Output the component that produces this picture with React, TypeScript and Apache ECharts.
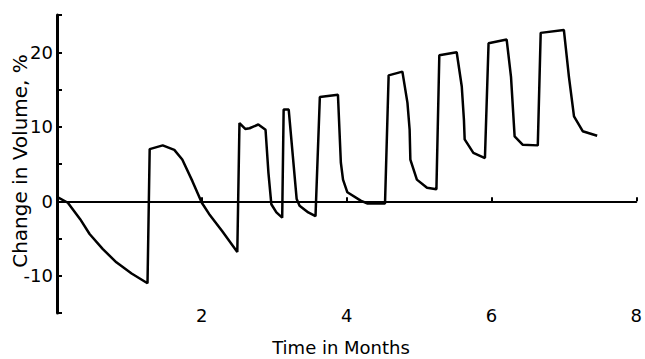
import React, { useEffect, useRef } from "react";
import * as echarts from "echarts";

const months = [
  0, 0.15, 0.32, 0.45, 0.63, 0.82, 1.03, 1.25, 1.28, 1.46, 1.62, 1.73, 1.87, 2.0, 2.1, 2.28, 2.49,
  2.52, 2.6, 2.66, 2.78, 2.88, 2.92, 2.96, 3.03, 3.11, 3.13, 3.2, 3.31, 3.35, 3.47, 3.57,
  3.63, 3.88, 3.92, 3.95, 4.01, 4.2, 4.29, 4.53, 4.58, 4.77, 4.84, 4.87, 4.88, 4.97, 5.11, 5.24,
  5.28, 5.52, 5.59, 5.62, 5.63, 5.75, 5.91, 5.96, 6.21, 6.27, 6.32, 6.43, 6.64,
  6.68, 7.0, 7.07, 7.14, 7.26, 7.46,
];
const volume = [
  0.6, -0.2, -2.4, -4.4, -6.4, -8.2, -9.7, -11.0, 7.0, 7.5, 6.9, 5.6, 2.7, -0.2, -1.7, -4.0, -6.8,
  10.5, 9.7, 9.8, 10.3, 9.6, 3.8, -0.4, -1.5, -2.2, 12.3, 12.3, 0.3, -0.6, -1.5, -2.0,
  14.0, 14.3, 5.2, 2.9, 1.2, 0.05, -0.3, -0.3, 16.9, 17.4, 13.2, 9.6, 5.6, 2.9, 1.8, 1.6,
  19.6, 20.0, 15.4, 10.9, 8.3, 6.5, 5.8, 21.2, 21.7, 16.7, 8.7, 7.6, 7.5,
  22.6, 23.0, 16.7, 11.4, 9.4, 8.8,
];
const xTickLabels = [2, 4, 6, 8];
const yTickLabels = [-10, 0, 10, 20];
const xTitle = "Time in Months";
const yTitle = "Change in Volume, %";

const FONT = "DejaVu Sans";

export default function App() {
  const ref = useRef<HTMLDivElement>(null);
  useEffect(() => {
    if (!ref.current) return;
    const chart = echarts.init(ref.current, undefined, { renderer: "svg" });
    const data = months.map((m, i) => [m, volume[i]]);
    chart.setOption({
      animation: false,
      backgroundColor: "#ffffff",
      grid: { left: 57, right: 5, top: 15, bottom: 46, containLabel: false },
      xAxis: [
        {
          type: "value",
          min: 0,
          max: 8,
          interval: 2,
          position: "bottom",
          axisLine: { show: true, onZero: true, lineStyle: { color: "#000", width: 2 } },
          axisTick: { show: true, inside: true, length: 4, lineStyle: { color: "#000", width: 2 } },
          axisLabel: { show: false },
          splitLine: { show: false },
        },
        {
          type: "value",
          min: 0,
          max: 8,
          interval: 2,
          position: "bottom",
          axisLine: { show: false, onZero: false },
          axisTick: { show: false },
          axisLabel: {
            show: true,
            margin: -7,
            color: "#000",
            fontFamily: FONT,
            fontSize: 18,
            formatter: (v: number) => (xTickLabels.includes(v) ? String(v) : ""),
          },
          splitLine: { show: false },
        },
      ],
      yAxis: {
        type: "value",
        min: -15,
        max: 25,
        interval: 5,
        axisLine: { show: true, lineStyle: { color: "#000", width: 3 } },
        axisTick: { show: true, inside: true, length: 5, lineStyle: { color: "#000", width: 2 } },
        axisLabel: {
          margin: 4,
          color: "#000",
          fontFamily: FONT,
          fontSize: 18,
          formatter: (v: number) => (yTickLabels.includes(v) ? String(v) : ""),
        },
        splitLine: { show: false },
      },
      graphic: [
        {
          type: "text",
          x: 341,
          y: 347,
          style: {
            text: xTitle,
            fill: "#000",
            font: `18px "${FONT}"`,
            textAlign: "center",
            textVerticalAlign: "middle",
          },
        },
        {
          type: "text",
          x: 20,
          y: 161,
          rotation: Math.PI / 2,
          style: {
            text: yTitle,
            fill: "#000",
            font: `20px "${FONT}"`,
            textAlign: "center",
            textVerticalAlign: "middle",
          },
        },
      ],
      series: [
        {
          type: "line",
          xAxisIndex: 0,
          data,
          showSymbol: false,
          symbol: "none",
          smooth: false,
          lineStyle: { color: "#000", width: 2.5 },
        },
      ],
    });
    return () => chart.dispose();
  }, []);
  return (
    <div
      ref={ref}
      style={{ position: "fixed", left: 0, top: 0, width: 645, height: 359, background: "#fff" }}
    />
  );
}
